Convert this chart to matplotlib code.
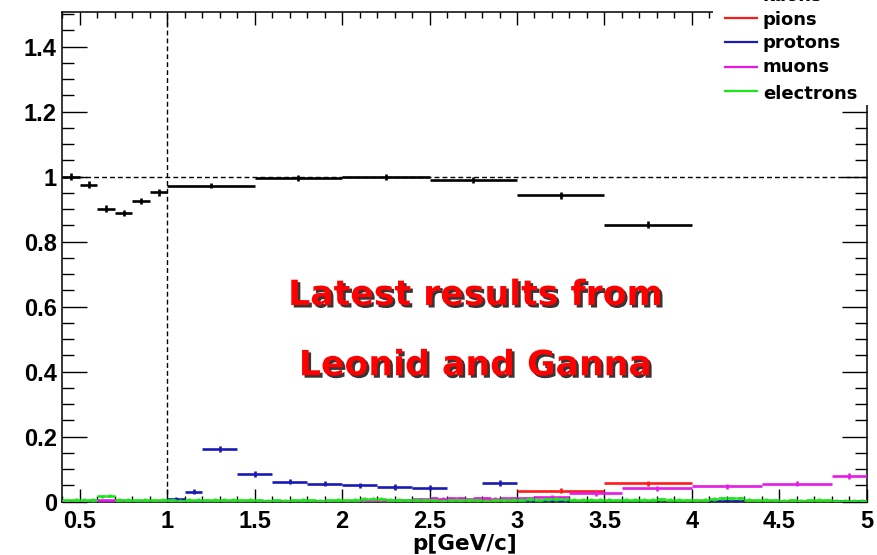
import matplotlib
matplotlib.use("Agg")
import matplotlib.pyplot as plt
import matplotlib.patheffects as pe
from matplotlib.lines import Line2D
from matplotlib.patches import Rectangle
from matplotlib.ticker import MultipleLocator

# ---------------- data: (bin low, bin high, value, error) ----------------
kaon_lo = [0.4, 0.5, 0.6, 0.7, 0.8, 0.9, 1.0, 1.5, 2.0, 2.5, 3.0, 3.5]
kaon_hi = [0.5, 0.6, 0.7, 0.8, 0.9, 1.0, 1.5, 2.0, 2.5, 3.0, 3.5, 4.0]
kaon_val = [1.000, 0.976, 0.902, 0.889, 0.926, 0.952, 0.973, 0.995, 0.998, 0.990, 0.943, 0.853]
kaon_err = [0.010, 0.010, 0.010, 0.010, 0.010, 0.010, 0.009, 0.009, 0.009, 0.010, 0.010, 0.011]

pion_lo = [0.4, 0.6, 0.8, 1.0, 1.2, 1.4, 1.6, 1.8, 2.0, 2.2, 2.4, 2.6, 2.8, 3.0, 3.5, 4.0, 4.5]
pion_hi = [0.6, 0.8, 1.0, 1.2, 1.4, 1.6, 1.8, 2.0, 2.2, 2.4, 2.6, 2.8, 3.0, 3.5, 4.0, 4.5, 5.0]
pion_val = [0.001, 0.001, 0.001, 0.002, 0.003, 0.002, 0.002, 0.003, 0.002, 0.003, 0.004, 0.005, 0.006,
            0.034, 0.057, 0.001, 0.001]
pion_err = [0.002, 0.002, 0.002, 0.002, 0.002, 0.002, 0.002, 0.002, 0.002, 0.002, 0.002, 0.002, 0.002,
            0.007, 0.008, 0.002, 0.002]

proton_lo = [0.4, 0.5, 0.6, 0.7, 0.8, 0.9, 1.0, 1.1, 1.2, 1.4, 1.6, 1.8, 2.0, 2.2, 2.4, 2.8, 3.0, 4.1, 4.8]
proton_hi = [0.5, 0.6, 0.7, 0.8, 0.9, 1.0, 1.1, 1.2, 1.4, 1.6, 1.8, 2.0, 2.2, 2.4, 2.6, 3.0, 3.3, 4.3, 5.0]
proton_val = [0.002, 0.001, 0.001, 0.002, 0.001, 0.002, 0.008, 0.031, 0.163, 0.085, 0.062, 0.055, 0.050,
              0.045, 0.043, 0.057, 0.002, 0.003, 0.001]
proton_err = [0.002, 0.002, 0.002, 0.002, 0.002, 0.002, 0.005, 0.007, 0.009, 0.008, 0.008, 0.008, 0.008,
              0.008, 0.008, 0.009, 0.002, 0.002, 0.002]

muon_lo = [0.4, 0.55, 0.75, 1.0, 1.5, 2.0, 2.2, 2.4,
           2.5, 2.55, 2.6, 2.65, 2.7, 2.75, 2.8, 2.85, 2.9, 2.95,
           3.0, 3.1, 3.3, 3.6, 4.0, 4.4, 4.8]
muon_hi = [0.55, 0.75, 1.0, 1.5, 2.0, 2.2, 2.4, 2.5,
           2.55, 2.6, 2.65, 2.7, 2.75, 2.8, 2.85, 2.9, 2.95, 3.0,
           3.1, 3.3, 3.6, 4.0, 4.4, 4.8, 5.0]
muon_val = [0.001, 0.004, 0.001, 0.001, 0.001, 0.002, 0.004, 0.008,
            0.010, 0.009, 0.011, 0.010, 0.008, 0.010, 0.011, 0.009, 0.010, 0.011,
            0.010, 0.014, 0.026, 0.041, 0.048, 0.056, 0.079]
muon_err = [0.002, 0.003, 0.002, 0.002, 0.002, 0.002, 0.003, 0.004,
            0.004, 0.004, 0.004, 0.004, 0.004, 0.004, 0.004, 0.004, 0.004, 0.004,
            0.005, 0.006, 0.007, 0.008, 0.008, 0.008, 0.009]

electron_edges = [round(0.4 + 0.05 * i, 2) for i in range(93)]
electron_val = [0.004, 0.005, 0.006, 0.005,
                0.017, 0.018,
                0.006, 0.005, 0.004, 0.005, 0.004, 0.006,
                0.004, 0.003, 0.005, 0.006, 0.004, 0.005, 0.006, 0.005, 0.004, 0.005,
                0.004, 0.003, 0.004, 0.003, 0.004, 0.005, 0.004, 0.003, 0.004, 0.005,
                0.004, 0.005, 0.008, 0.009, 0.008, 0.006, 0.005, 0.004, 0.005, 0.004,
                0.004, 0.003, 0.004, 0.004, 0.005, 0.004, 0.003, 0.004, 0.005, 0.006,
                0.006, 0.007, 0.006, 0.007, 0.008, 0.007, 0.006, 0.005, 0.006, 0.005,
                0.005, 0.004, 0.005, 0.006, 0.005, 0.006, 0.007, 0.006, 0.005, 0.004,
                0.004, 0.005, 0.008, 0.010, 0.011, 0.010, 0.005, 0.004, 0.005, 0.004,
                0.003, 0.004, 0.003, 0.004, 0.005, 0.004, 0.003, 0.002, 0.002, 0.002]
electron_err = 0.005

series_names = ["kaons", "pions", "protons", "muons", "electrons"]
series_colors = ["#000000", "#ff1a1a", "#1a1ab4", "#e61ae6", "#1ae61a"]

x_ticks = [0.5, 1, 1.5, 2, 2.5, 3, 3.5, 4, 4.5, 5]
x_ticklabels = ["0.5", "1", "1.5", "2", "2.5", "3", "3.5", "4", "4.5", "5"]
y_ticks = [0, 0.2, 0.4, 0.6, 0.8, 1.0, 1.2, 1.4]
y_ticklabels = ["0", "0.2", "0.4", "0.6", "0.8", "1", "1.2", "1.4"]
x_title = "p[GeV/c]"
note_lines = ["Latest results from", "Leonid and Ganna"]

# ---------------- figure ----------------
W, H = 877, 555
fig = plt.figure(figsize=(W / 100, H / 100), dpi=100)
ax = fig.add_axes([62.4 / W, (H - 501.7) / H, (866.7 - 62.4) / W, (501.7 - 12.3) / H])
ax.set_xlim(0.4, 5.0)
ax.set_ylim(0.0, 1.506)

tick_font = dict(family="Liberation Sans", weight="bold", size=17)
ax.set_xticks(x_ticks)
ax.set_xticklabels(x_ticklabels, **tick_font)
ax.set_yticks(y_ticks)
ax.set_yticklabels(y_ticklabels, **tick_font)
ax.xaxis.set_minor_locator(MultipleLocator(0.1))
ax.yaxis.set_minor_locator(MultipleLocator(0.05))
ax.tick_params(which="both", direction="in", top=True, right=True, width=1.0, color="black")
ax.tick_params(axis="x", which="major", length=9.5, pad=6)
ax.tick_params(axis="x", which="minor", length=4.3)
ax.tick_params(axis="y", which="major", length=18, pad=4)
ax.tick_params(axis="y", which="minor", length=8.6)
for s in ax.spines.values():
    s.set_linewidth(1.1)

ax.set_xlabel(x_title, family="DejaVu Sans", weight="bold", size=15.5, labelpad=1)

# reference lines
ax.axhline(1.0, color="black", lw=1.0, ls=(0, (3.5, 2.2)), zorder=1)
ax.axvline(1.0, color="black", lw=1.0, ls=(0, (3.5, 2.2)), zorder=1)


def draw_series(lo, hi, val, err, color, z):
    centers = [(a + b) / 2 for a, b in zip(lo, hi)]
    errs = err if isinstance(err, list) else [err] * len(val)
    ax.hlines(val, lo, hi, colors=color, lw=1.9, zorder=z)
    ax.vlines(centers, [v - e for v, e in zip(val, errs)], [v + e for v, e in zip(val, errs)],
              colors=color, lw=1.9, zorder=z)


draw_series(kaon_lo, kaon_hi, kaon_val, kaon_err, series_colors[0], 3)
draw_series(pion_lo, pion_hi, pion_val, pion_err, series_colors[1], 4)
draw_series(proton_lo, proton_hi, proton_val, proton_err, series_colors[2], 5)
draw_series(muon_lo, muon_hi, muon_val, muon_err, series_colors[3], 6)
draw_series(electron_edges[:-1], electron_edges[1:], electron_val, electron_err, series_colors[4], 7)

# annotation with drop shadow
shadow = [pe.SimplePatchShadow(offset=(1.8, -1.8), shadow_rgbFace="#202020", alpha=0.9), pe.Normal()]
for txt, yv in zip(note_lines, [0.636, 0.42]):
    ax.text(2.763, yv, txt, ha="center", va="center", color="#ff0000",
            family="DejaVu Sans", weight="bold", size=25, path_effects=shadow, zorder=10)

# legend box in the upper right corner
fig.add_artist(Rectangle((713 / W, 1 - 105 / H), (W - 713) / W, 105 / H + 0.02,
                         transform=fig.transFigure, facecolor="white", edgecolor="none", zorder=5))
line_y = [-6, 18.3, 41.7, 66.7, 91]
base_y = [1, 25, 48.5, 72, 99]
for name, col, ly, by in zip(series_names, series_colors, line_y, base_y):
    fig.add_artist(Line2D([725 / W, 757 / W], [1 - ly / H, 1 - ly / H], transform=fig.transFigure,
                          color=col, lw=1.6, zorder=6))
    fig.text(763 / W, 1 - by / H, name, ha="left", va="baseline", family="DejaVu Sans",
             weight="bold", size=13, zorder=6)

fig.savefig("out.png", dpi=100)
